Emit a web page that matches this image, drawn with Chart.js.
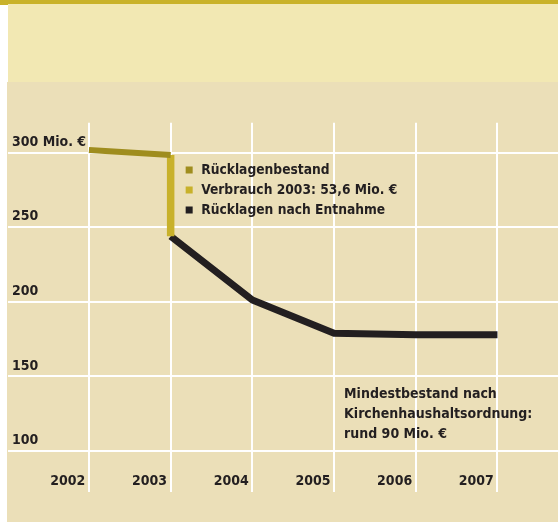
<!DOCTYPE html>
<html>
<head>
<meta charset="utf-8">
<script src="https://cdn.jsdelivr.net/npm/chart.js@4.4.1/dist/chart.umd.min.js"></script>
<style>
  html, body { margin: 0; padding: 0; background: #fff; }
  #wrap { width: 558px; height: 522px; }
</style>
</head>
<body>
<div id="wrap"><canvas id="chart" width="558" height="522"></canvas></div>
<script>
// Daten (Mio. €)
const years = [2002, 2003, 2004, 2005, 2006, 2007];
const yTicks = [100, 150, 200, 250, 300];
const bestandYears = [2002, 2003];
const bestand = [301.8, 298.5];
const verbrauchYears = [2003, 2003];
const verbrauch = [298.5, 244];
const entnahmeYears = [2003, 2004, 2005, 2006, 2007];
const entnahme = [244, 201.3, 179, 178, 178];
const noteLines = ['Mindestbestand nach', 'Kirchenhaushaltsordnung:', 'rund 90 Mio. €'];

const FONT = "'DejaVu Sans Condensed', 'Liberation Sans Narrow', 'DejaVu Sans', sans-serif";
const TEXT = '#231f20';

function toPoints(xs, ys) {
    return xs.map((x, i) => ({ x: x, y: ys[i] }));
}

// Hintergrundflächen
const backdrop = {
    id: 'backdrop',
    beforeDraw(chart) {
        const c = chart.ctx;
        c.save();
        c.fillStyle = '#ffffff';
        c.fillRect(0, 0, chart.width, chart.height);
        c.fillStyle = '#c9b22a';
        c.fillRect(0, 0, chart.width, 4);
        c.fillRect(0, 0, 8, 5);
        c.fillStyle = '#f2e8b3';
        c.fillRect(8, 4, chart.width - 8, 78);
        c.fillStyle = '#ebdfb8';
        c.fillRect(7, 82, chart.width - 7, chart.height - 82);
        c.restore();
    }
};

// Legende und Hinweistext
const notes = {
    id: 'notes',
    afterDraw(chart) {
        const c = chart.ctx;
        const xs = chart.scales.x;
        c.save();
        c.textBaseline = 'middle';
        c.textAlign = 'left';

        // Legende
        const lx = xs.getPixelForValue(2003) + 15;
        c.font = 'bold 13.7px ' + FONT;
        chart.data.datasets.forEach((ds, i) => {
            const cy = 170 + i * 20;
            c.fillStyle = ds.borderColor;
            c.fillRect(lx, cy - 3.5, 7, 7);
            c.fillStyle = TEXT;
            c.fillText(ds.label, lx + 15.5, cy);
        });

        // Mindestbestand
        const nx = xs.getPixelForValue(2005) + 10;
        c.font = 'bold 14px ' + FONT;
        c.fillStyle = TEXT;
        noteLines.forEach((t, i) => {
            c.fillText(t, nx, 394 + i * 20);
        });
        c.restore();
    }
};

new Chart(document.getElementById('chart'), {
    type: 'line',
    data: {
        datasets: [
            {
                label: 'Rücklagenbestand',
                data: toPoints(bestandYears, bestand),
                borderColor: '#9f8d1e',
                borderWidth: 6,
                pointRadius: 0,
                borderCapStyle: 'butt'
            },
            {
                label: 'Verbrauch 2003: 53,6 Mio. €',
                data: toPoints(verbrauchYears, verbrauch),
                borderColor: '#c8b12a',
                borderWidth: 7.5,
                pointRadius: 0,
                borderCapStyle: 'butt'
            },
            {
                label: 'Rücklagen nach Entnahme',
                data: toPoints(entnahmeYears, entnahme),
                borderColor: '#231f20',
                borderWidth: 7,
                pointRadius: 0,
                borderCapStyle: 'butt',
                borderJoinStyle: 'round',
                tension: 0
            }
        ]
    },
    options: {
        responsive: false,
        animation: false,
        devicePixelRatio: 1,
        layout: {
            padding: { left: 0, top: 122.7, right: 0, bottom: 26 }
        },
        plugins: {
            legend: { display: false },
            tooltip: { enabled: false }
        },
        scales: {
            x: {
                type: 'linear',
                position: 'bottom',
                min: 2001.009,
                max: 2007.741,
                afterBuildTicks: s => { s.ticks = years.map(v => ({ value: v })); },
                grid: { color: '#ffffff', lineWidth: 2, drawTicks: false },
                border: { display: false },
                ticks: {
                    mirror: true,
                    padding: 2.2,
                    align: 'end',
                    labelOffset: -3.6,
                    color: TEXT,
                    font: { family: FONT, size: 14, weight: 'bold' },
                    callback: v => String(v)
                }
            },
            y: {
                type: 'linear',
                position: 'left',
                min: 72.8,
                max: 320.1,
                afterBuildTicks: s => { s.ticks = yTicks.map(v => ({ value: v })); },
                grid: { color: '#ffffff', lineWidth: 2, drawTicks: false },
                border: { display: false },
                ticks: {
                    mirror: true,
                    padding: 4,
                    labelOffset: -10.5,
                    color: TEXT,
                    font: { family: FONT, size: 14, weight: 'bold' },
                    callback: v => v === 300 ? '300 Mio. €' : String(v)
                }
            }
        }
    },
    plugins: [backdrop, notes]
});
</script>
</body>
</html>
